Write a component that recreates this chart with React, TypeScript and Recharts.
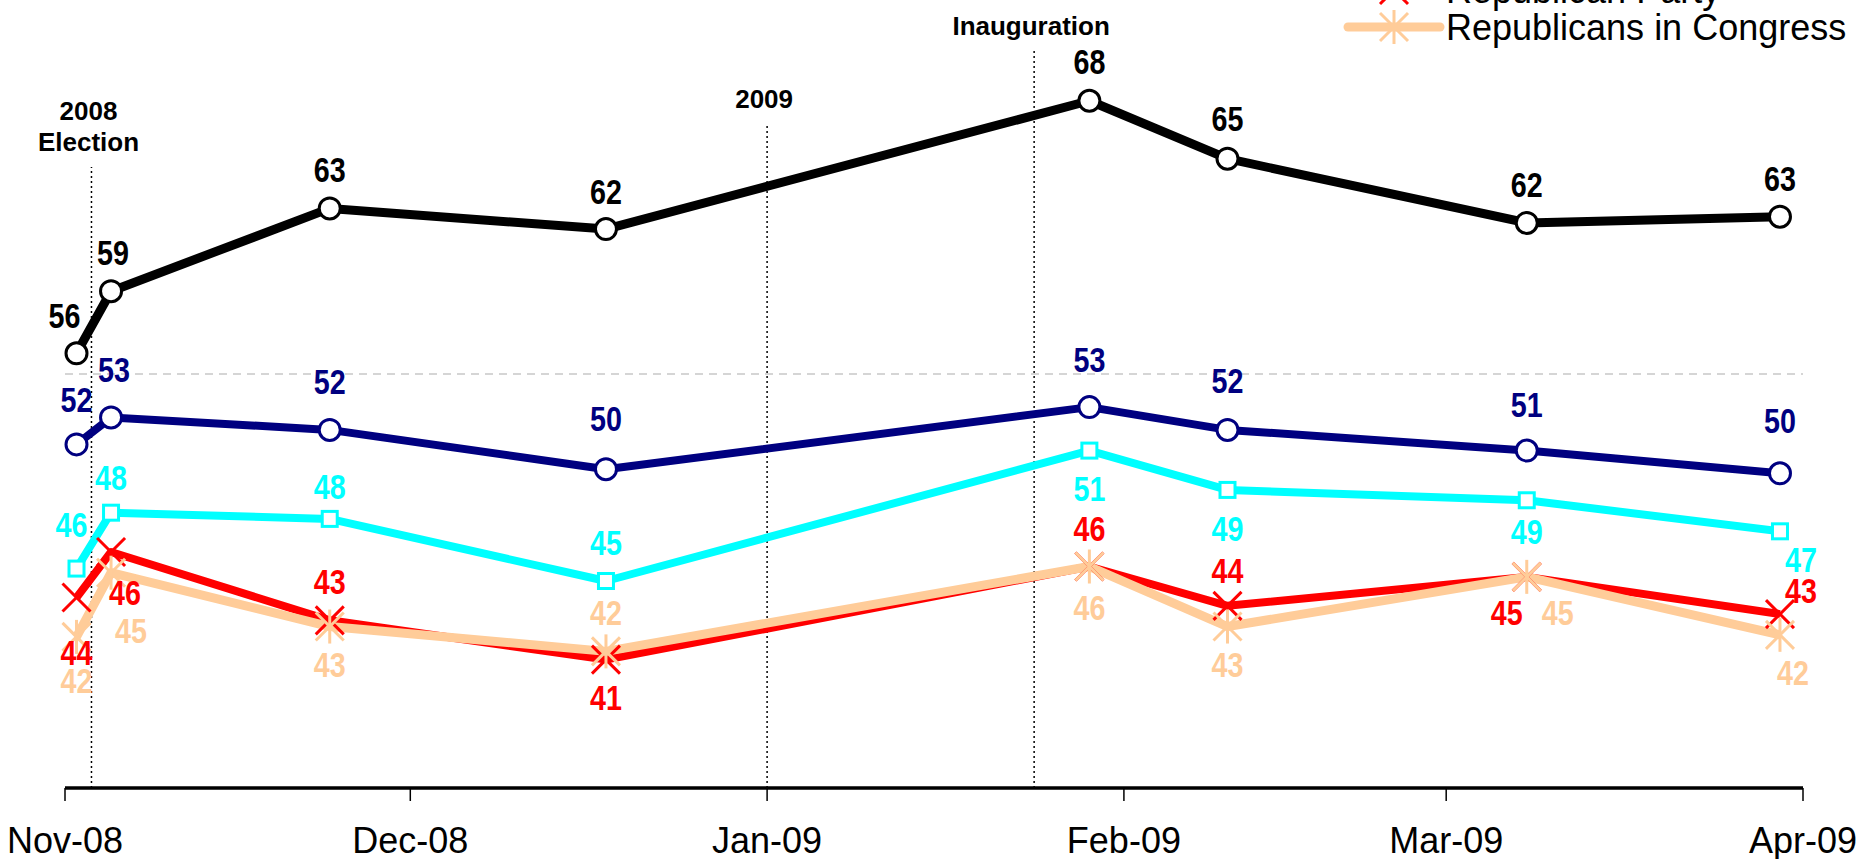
import React from 'react';
import { LineChart, Line, XAxis, YAxis, ReferenceLine, LabelList } from 'recharts';

// survey dates, as days since 1 Nov 2008
const surveyDays = [1, 4, 23, 47, 89, 101, 127, 149];

const obama = [56.0, 59.0, 63.0, 62.0, 68.2, 65.4, 62.3, 62.6];
const democraticParty = [51.6, 52.9, 52.3, 50.4, 53.4, 52.3, 51.3, 50.2];
const democratsInCongress = [45.6, 48.3, 48.0, 45.0, 51.3, 49.4, 48.9, 47.4];
const republicanParty = [44.2, 46.4, 43.1, 41.2, 45.7, 43.8, 45.2, 43.4];
const republicansInCongress = [42.3, 45.4, 42.8, 41.6, 45.7, 42.8, 45.2, 42.4];

const monthTicks = [0, 30, 61, 92, 120, 151];
const monthLabels = ['Nov-08', 'Dec-08', 'Jan-09', 'Feb-09', 'Mar-09', 'Apr-09'];

const events = [
  { lines: ['2008', 'Election'], day: 2.3, top: 65 },
  { lines: ['2009'], day: 61, top: 67.1 },
  { lines: ['Inauguration'], day: 84.2, top: 70.6 },
];

const FONT = '"Liberation Sans", Arial, sans-serif';

type MarkerKind = 'circle' | 'square' | 'cross' | 'star';

// label offsets (dx, dy) from each point
const series = [
  {
    key: 'obama', name: 'Barack Obama', values: obama, color: '#000000', width: 9, marker: 'circle' as MarkerKind,
    offsets: [[-12, -37], [2, -38], [0, -38], [0, -37], [0, -39], [0, -40], [0, -38], [0, -38]],
  },
  {
    key: 'demParty', name: 'Democratic Party', values: democraticParty, color: '#000080', width: 8, marker: 'circle' as MarkerKind,
    offsets: [[0, -44], [3, -47], [0, -48], [0, -50], [0, -47], [0, -49], [0, -46], [0, -52]],
  },
  {
    key: 'demCongress', name: 'Democrats in Congress', values: democratsInCongress, color: '#00FFFF', width: 8, marker: 'square' as MarkerKind,
    offsets: [[-5, -44], [0, -35], [0, -32], [0, -38], [0, 38], [0, 39], [0, 32], [21, 29]],
  },
  {
    key: 'repParty', name: 'Republican Party', values: republicanParty, color: '#FF0000', width: 8, marker: 'cross' as MarkerKind,
    offsets: [[0, 55], [14, 41], [0, -38], [0, 38], [0, -38], [0, -35], [-20, 36], [21, -23]],
  },
  {
    key: 'repCongress', name: 'Republicans in Congress', values: republicansInCongress, color: '#FFCC99', width: 9, marker: 'star' as MarkerKind,
    offsets: [[0, 44], [20, 58], [0, 38], [0, -38], [0, 41], [0, 38], [31, 36], [13, 38]],
  },
];

const data = surveyDays.map((day, i) => {
  const row: Record<string, number> = { day };
  series.forEach((s) => {
    row[s.key] = s.values[i];
  });
  return row;
});

const Marker = ({ kind, color, cx, cy }: { kind: MarkerKind; color: string; cx: number; cy: number }) => {
  if (kind === 'circle') {
    return <circle cx={cx} cy={cy} r={10.5} fill="#fff" stroke={color} strokeWidth={3} />;
  }
  if (kind === 'square') {
    return <rect x={cx - 7.5} y={cy - 7.5} width={15} height={15} fill="#fff" stroke={color} strokeWidth={3} />;
  }
  const h = 14;
  return (
    <g stroke={color} strokeWidth={3}>
      <line x1={cx - h} y1={cy - h} x2={cx + h} y2={cy + h} />
      <line x1={cx - h} y1={cy + h} x2={cx + h} y2={cy - h} />
      {kind === 'star' && <line x1={cx} y1={cy - h - 3} x2={cx} y2={cy + h + 3} />}
    </g>
  );
};

const makeDot = (kind: MarkerKind, color: string) => (props: any) => {
  const { cx, cy, index } = props;
  if (cx == null || cy == null) return <g key={`d${index}`} />;
  return (
    <g key={`d${index}`}>
      <Marker kind={kind} color={color} cx={cx} cy={cy} />
    </g>
  );
};

// value labels are a condensed bold face in the original
const makeLabel = (color: string, offsets: number[][]) => (props: any) => {
  const { x, y, value, index } = props;
  const [dx, dy] = offsets[index] || [0, -38];
  return (
    <text
      transform={`translate(${x + dx} ${y + dy}) scale(0.82 1)`}
      textAnchor="middle"
      dominantBaseline="central"
      fill={color}
      fontFamily={FONT}
      fontWeight="bold"
      fontSize={35}
    >
      {Math.round(value)}
    </text>
  );
};

const makeEventLabel = (lines: string[]) => (props: any) => {
  const vb = props.viewBox || {};
  const cx = vb.x - 3;
  const top = vb.y;
  return (
    <g>
      {lines.map((t, i) => (
        <text
          key={t}
          x={cx}
          y={top - 25 - (lines.length - 1 - i) * 31}
          textAnchor="middle"
          dominantBaseline="central"
          fontFamily={FONT}
          fontWeight="bold"
          fontSize={26}
          fill="#000"
        >
          {t}
        </text>
      ))}
    </g>
  );
};

const Legend = () => {
  const rowH = 37;
  const lastY = 27;
  return (
    <svg
      width={560}
      height={200}
      style={{ position: 'absolute', left: 1300, top: lastY - 4 * rowH - 30 }}
    >
      {series.map((s, i) => {
        const y = 30 + i * rowH;
        return (
          <g key={s.key}>
            <line x1={48} y1={y} x2={140} y2={y} stroke={s.color} strokeWidth={s.width} strokeLinecap="round" />
            <Marker kind={s.marker} color={s.color} cx={94} cy={y} />
            <text x={146} y={y} dominantBaseline="central" fontFamily={FONT} fontSize={36} fill="#000">
              {s.name}
            </text>
          </g>
        );
      })}
    </svg>
  );
};

export default function App() {
  return (
    <div style={{ position: 'absolute', left: 0, top: 0, width: 1856, height: 859, overflow: 'hidden', background: '#fff' }}>
      <div style={{ position: 'absolute', left: 0, top: -40 }}>
        <LineChart width={1856} height={910} data={data} margin={{ top: 0, right: 53, bottom: 0, left: 65 }}>
          <XAxis
            dataKey="day"
            type="number"
            domain={[0, 151]}
            ticks={monthTicks}
            interval={0}
            tickFormatter={(v: number) => monthLabels[monthTicks.indexOf(v)] ?? ''}
            axisLine={{ stroke: '#000', strokeWidth: 3.5 }}
            tickLine={{ stroke: '#000', strokeWidth: 1.5 }}
            tickSize={13}
            tickMargin={26}
            height={82}
            tick={{ fontSize: 36, fill: '#000', fontFamily: FONT }}
          />
          <YAxis hide type="number" domain={[35, 75]} />
          <ReferenceLine y={55} stroke="#c8c8c8" strokeWidth={1.5} strokeDasharray="8 6" />
          {events.map((e) => (
            <ReferenceLine
              key={e.lines.join(' ')}
              segment={[{ x: e.day, y: 35 }, { x: e.day, y: e.top }]}
              stroke="#000"
              strokeWidth={1.5}
              strokeDasharray="2 3"
              label={makeEventLabel(e.lines)}
            />
          ))}
          {series.map((s) => (
            <Line
              key={s.key}
              type="linear"
              dataKey={s.key}
              name={s.name}
              stroke={s.color}
              strokeWidth={s.width}
              strokeLinejoin="round"
              dot={makeDot(s.marker, s.color)}
              activeDot={false}
              isAnimationActive={false}
            >
              <LabelList dataKey={s.key} content={makeLabel(s.color, s.offsets)} />
            </Line>
          ))}
        </LineChart>
      </div>
      <Legend />
    </div>
  );
}
